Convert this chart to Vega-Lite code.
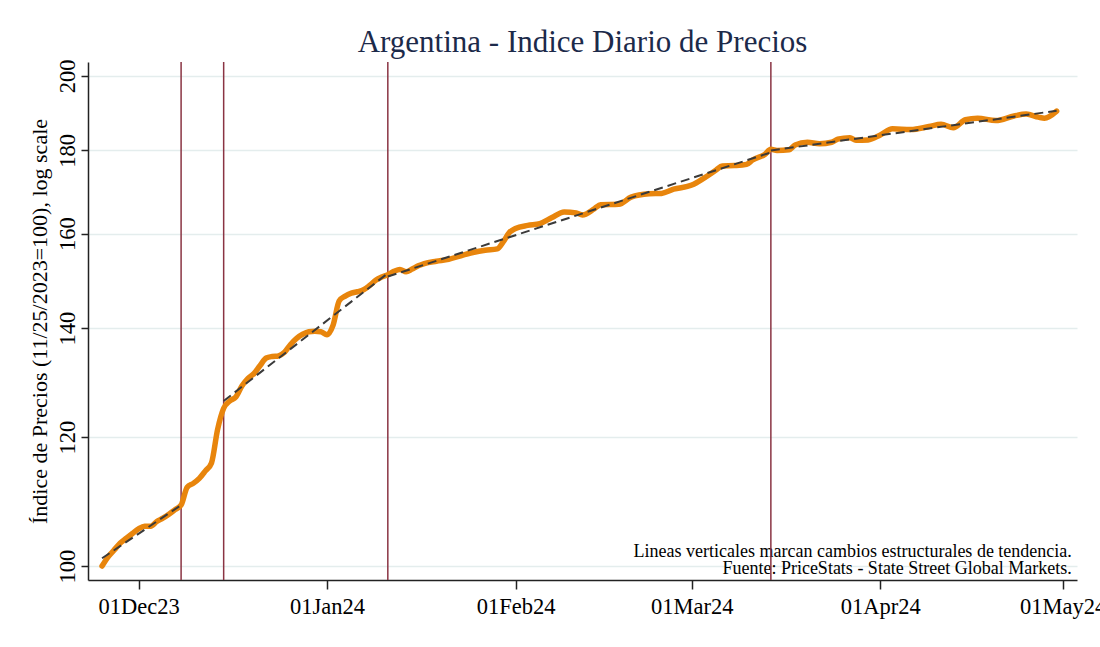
{
  "$schema": "https://vega.github.io/schema/vega-lite/v6.json",
  "width": 989,
  "height": 518,
  "autosize": {"type": "none"},
  "padding": {"left": 88, "top": 62, "right": 23, "bottom": 67},
  "background": "white",
  "title": {
    "text": "Argentina - Indice Diario de Precios",
    "font": "Liberation Serif",
    "fontSize": 31,
    "fontWeight": "normal",
    "color": "#1c2a4a",
    "anchor": "middle",
    "offset": 0
  },
  "config": {
    "view": {"stroke": null},
    "axis": {
      "labelFont": "Liberation Serif",
      "titleFont": "Liberation Serif",
      "labelColor": "black",
      "titleColor": "black",
      "domainColor": "#222222",
      "tickColor": "#222222",
      "domainWidth": 1.5,
      "tickWidth": 1.5
    }
  },
  "datasets": {
    "series": [
      {"date": "2023-11-25", "value": 100.0},
      {"date": "2023-11-26", "value": 101.3},
      {"date": "2023-11-27", "value": 102.3},
      {"date": "2023-11-28", "value": 103.3},
      {"date": "2023-11-29", "value": 104.0},
      {"date": "2023-11-30", "value": 104.7},
      {"date": "2023-12-01", "value": 105.4},
      {"date": "2023-12-02", "value": 105.8},
      {"date": "2023-12-03", "value": 105.8},
      {"date": "2023-12-04", "value": 106.5},
      {"date": "2023-12-05", "value": 107.0},
      {"date": "2023-12-06", "value": 107.6},
      {"date": "2023-12-07", "value": 108.3},
      {"date": "2023-12-08", "value": 109.0},
      {"date": "2023-12-09", "value": 111.8},
      {"date": "2023-12-10", "value": 112.4},
      {"date": "2023-12-11", "value": 113.2},
      {"date": "2023-12-12", "value": 114.4},
      {"date": "2023-12-13", "value": 115.7},
      {"date": "2023-12-14", "value": 121.3},
      {"date": "2023-12-15", "value": 125.0},
      {"date": "2023-12-16", "value": 126.3},
      {"date": "2023-12-17", "value": 127.0},
      {"date": "2023-12-18", "value": 129.0},
      {"date": "2023-12-19", "value": 130.4},
      {"date": "2023-12-20", "value": 131.3},
      {"date": "2023-12-21", "value": 132.8},
      {"date": "2023-12-22", "value": 134.2},
      {"date": "2023-12-23", "value": 134.5},
      {"date": "2023-12-24", "value": 134.6},
      {"date": "2023-12-25", "value": 135.3},
      {"date": "2023-12-26", "value": 136.8},
      {"date": "2023-12-27", "value": 138.0},
      {"date": "2023-12-28", "value": 138.8},
      {"date": "2023-12-29", "value": 139.3},
      {"date": "2023-12-30", "value": 139.4},
      {"date": "2023-12-31", "value": 139.3},
      {"date": "2024-01-01", "value": 138.7},
      {"date": "2024-01-02", "value": 140.6},
      {"date": "2024-01-03", "value": 145.5},
      {"date": "2024-01-04", "value": 146.5},
      {"date": "2024-01-05", "value": 147.1},
      {"date": "2024-01-06", "value": 147.4},
      {"date": "2024-01-07", "value": 147.8},
      {"date": "2024-01-08", "value": 148.7},
      {"date": "2024-01-09", "value": 149.8},
      {"date": "2024-01-10", "value": 150.5},
      {"date": "2024-01-11", "value": 151.0},
      {"date": "2024-01-12", "value": 151.7},
      {"date": "2024-01-13", "value": 152.1},
      {"date": "2024-01-14", "value": 151.6},
      {"date": "2024-01-15", "value": 152.2},
      {"date": "2024-01-16", "value": 152.9},
      {"date": "2024-01-17", "value": 153.4},
      {"date": "2024-01-19", "value": 153.9},
      {"date": "2024-01-21", "value": 154.3},
      {"date": "2024-01-23", "value": 155.1},
      {"date": "2024-01-25", "value": 155.8},
      {"date": "2024-01-27", "value": 156.3},
      {"date": "2024-01-29", "value": 156.6},
      {"date": "2024-01-30", "value": 158.2},
      {"date": "2024-01-31", "value": 160.3},
      {"date": "2024-02-01", "value": 161.2},
      {"date": "2024-02-03", "value": 161.9},
      {"date": "2024-02-05", "value": 162.3},
      {"date": "2024-02-07", "value": 163.7},
      {"date": "2024-02-09", "value": 165.0},
      {"date": "2024-02-11", "value": 164.8},
      {"date": "2024-02-12", "value": 164.3},
      {"date": "2024-02-14", "value": 165.8},
      {"date": "2024-02-15", "value": 166.7},
      {"date": "2024-02-18", "value": 166.8},
      {"date": "2024-02-20", "value": 168.5},
      {"date": "2024-02-23", "value": 169.3},
      {"date": "2024-02-25", "value": 169.4},
      {"date": "2024-02-27", "value": 170.4},
      {"date": "2024-03-01", "value": 171.4},
      {"date": "2024-03-03", "value": 173.1},
      {"date": "2024-03-05", "value": 175.1},
      {"date": "2024-03-06", "value": 176.1},
      {"date": "2024-03-08", "value": 176.2},
      {"date": "2024-03-10", "value": 176.5},
      {"date": "2024-03-11", "value": 177.6},
      {"date": "2024-03-13", "value": 179.0},
      {"date": "2024-03-14", "value": 180.3},
      {"date": "2024-03-15", "value": 180.0},
      {"date": "2024-03-17", "value": 180.2},
      {"date": "2024-03-18", "value": 181.4},
      {"date": "2024-03-20", "value": 182.1},
      {"date": "2024-03-22", "value": 181.7},
      {"date": "2024-03-24", "value": 182.1},
      {"date": "2024-03-25", "value": 182.9},
      {"date": "2024-03-27", "value": 183.3},
      {"date": "2024-03-28", "value": 182.6},
      {"date": "2024-03-30", "value": 182.7},
      {"date": "2024-04-01", "value": 184.0},
      {"date": "2024-04-03", "value": 185.6},
      {"date": "2024-04-06", "value": 185.4},
      {"date": "2024-04-09", "value": 186.2},
      {"date": "2024-04-11", "value": 186.8},
      {"date": "2024-04-13", "value": 185.9},
      {"date": "2024-04-15", "value": 188.0},
      {"date": "2024-04-17", "value": 188.4},
      {"date": "2024-04-20", "value": 187.8},
      {"date": "2024-04-23", "value": 189.0},
      {"date": "2024-04-25", "value": 189.5},
      {"date": "2024-04-27", "value": 188.7},
      {"date": "2024-04-28", "value": 188.4},
      {"date": "2024-04-30", "value": 190.3}
    ],
    "breaks": [
      {"date": "2023-12-08"},
      {"date": "2023-12-15"},
      {"date": "2024-01-11"},
      {"date": "2024-03-14"}
    ],
    "trend": [
      {"date": "2023-11-25", "value": 101.1, "segment": 1},
      {"date": "2023-12-08", "value": 109.0, "segment": 1},
      {"date": "2023-12-15", "value": 126.3, "segment": 2},
      {"date": "2024-01-11", "value": 151.3, "segment": 2},
      {"date": "2024-01-11", "value": 150.6, "segment": 3},
      {"date": "2024-03-14", "value": 179.5, "segment": 3},
      {"date": "2024-03-14", "value": 180.0, "segment": 4},
      {"date": "2024-04-30", "value": 190.4, "segment": 4}
    ],
    "notes": [
      {"note": "Lineas verticales marcan cambios estructurales de tendencia.\nFuente: PriceStats - State Street Global Markets."}
    ]
  },
  "layer": [
    {
      "data": {"name": "notes"},
      "mark": {
        "type": "text",
        "align": "right",
        "baseline": "alphabetic",
        "lineBreak": "\n",
        "font": "Liberation Serif",
        "fontSize": 18,
        "lineHeight": 17.5,
        "color": "black"
      },
      "encoding": {
        "x": {"datum": {"year": 2024, "month": 5, "date": 2, "hours": 12, "utc": true}, "type": "temporal", "scale": {"type": "utc"}},
        "y": {"datum": 101.3, "type": "quantitative"},
        "text": {"field": "note", "type": "nominal"}
      }
    },
    {
      "data": {"name": "breaks"},
      "mark": {"type": "rule", "color": "#8a3443", "strokeWidth": 1.5},
      "encoding": {
        "x": {"field": "date", "type": "temporal"}
      }
    },
    {
      "data": {"name": "series"},
      "mark": {"type": "line", "color": "#e8850c", "strokeWidth": 5.5, "interpolate": "monotone", "strokeJoin": "round", "strokeCap": "round"},
      "encoding": {
        "x": {
          "field": "date",
          "type": "temporal",
          "scale": {
            "type": "utc",
            "domain": [
              {"year": 2023, "month": 11, "date": 22, "hours": 16, "minutes": 30, "utc": true},
              {"year": 2024, "month": 5, "date": 3, "hours": 8, "minutes": 24, "utc": true}
            ]
          },
          "axis": {
            "title": null,
            "format": "%d%b%y",
            "values": [
              {"year": 2023, "month": 12, "date": 1, "utc": true},
              {"year": 2024, "month": 1, "date": 1, "utc": true},
              {"year": 2024, "month": 2, "date": 1, "utc": true},
              {"year": 2024, "month": 3, "date": 1, "utc": true},
              {"year": 2024, "month": 4, "date": 1, "utc": true},
              {"year": 2024, "month": 5, "date": 1, "utc": true}
            ],
            "grid": false,
            "labelFontSize": 22.5,
            "tickSize": 9,
            "labelPadding": 6,
            "labelOverlap": false,
            "labelFlush": false
          }
        },
        "y": {
          "field": "value",
          "type": "quantitative",
          "scale": {"type": "log", "domain": [98.04, 204], "nice": false, "zero": false},
          "axis": {
            "title": "Índice de Precios (11/25/2023=100), log scale",
            "titleFontSize": 22,
            "titleFontWeight": "normal",
            "titlePadding": 5,
            "values": [100, 120, 140, 160, 180, 200],
            "labelAngle": -90,
            "labelAlign": "center",
            "labelBaseline": "bottom",
            "labelFontSize": 22.5,
            "labelPadding": 2,
            "tickSize": 7,
            "grid": true,
            "gridColor": "#e4eded",
            "gridWidth": 1.5,
            "labelOverlap": false,
            "labelFlush": false
          }
        }
      }
    },
    {
      "data": {"name": "trend"},
      "mark": {"type": "line", "color": "#3a3a3a", "strokeWidth": 2, "strokeDash": [9, 5]},
      "encoding": {
        "x": {"field": "date", "type": "temporal"},
        "y": {"field": "value", "type": "quantitative"},
        "detail": {"field": "segment", "type": "nominal"}
      }
    }
  ]
}
